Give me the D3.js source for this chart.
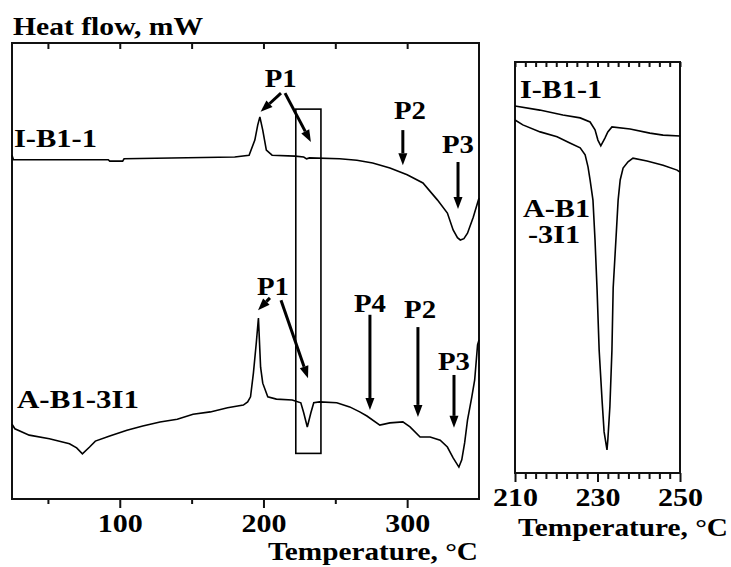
<!DOCTYPE html>
<html>
<head>
<meta charset="utf-8">
<script src="https://cdn.jsdelivr.net/npm/d3@7"></script>
<style>
  body { margin: 0; background: #fff; }
  text { font-family: "Liberation Serif", "DejaVu Serif Condensed", "DejaVu Serif", serif; font-weight: bold; font-size: 26px; fill: #000; }
</style>
</head>
<body>
<svg id="chart" width="731" height="567"></svg>
<script>
// DSC curves, heat flow in arbitrary units (0-100 per panel)
// I-B1-1, full range
const tempTop = [25, 26, 92, 93, 102, 103, 180, 190, 194, 196, 197.5, 199.5, 202, 206, 222, 228, 230, 232, 253, 265, 276, 288, 300, 311, 321, 328, 332, 335, 337, 339.5, 342, 346, 350];
const flowTop = [75.4, 74.4, 74.4, 74.1, 74.1, 74.6, 75.0, 75.4, 78.7, 82.0, 83.8, 80.9, 76.5, 75.4, 75.2, 75.0, 74.6, 74.8, 74.6, 74.3, 73.7, 72.6, 71.1, 69.3, 65.6, 62.7, 59.0, 57.3, 56.8, 57.1, 58.3, 61.8, 66.0];

// A-B1-3I1, full range
const tempBot = [25, 27, 37, 51, 65, 70, 74, 79, 83, 93, 105, 116, 128, 140, 151, 163, 175, 186, 189, 191, 193, 195, 196.5, 198, 199.5, 203, 209, 220, 226, 228, 230.5, 233, 235, 239, 251, 260, 267, 272, 281, 288, 297, 302, 309, 316, 323, 328, 332, 336, 338, 340, 342, 345, 347, 349, 350];
const flowBot = [16.4, 15.4, 14.0, 13.2, 12.1, 11.2, 9.9, 11.4, 12.7, 13.8, 15.1, 16.0, 16.9, 17.5, 18.6, 19.1, 20.0, 20.6, 21.3, 22.4, 27.6, 34.2, 39.7, 28.9, 25.4, 22.4, 21.9, 21.7, 21.1, 18.9, 15.8, 18.9, 21.1, 21.3, 21.1, 20.2, 19.1, 18.2, 16.2, 16.7, 16.9, 15.8, 13.6, 13.6, 12.9, 11.4, 9.0, 7.0, 8.6, 12.3, 17.3, 22.4, 26.1, 33.8, 34.9];

// zoomed 210-250 C
const zTempTop = [210, 216, 221.6, 225.8, 228.2, 229.4, 230.1, 230.8, 231.8, 232.5, 233.5, 237.9, 242.7, 245.9, 250];
const zFlowTop = [89.3, 88.3, 87.1, 86.4, 85.4, 83.5, 81.0, 79.6, 81.5, 83.0, 84.2, 83.7, 82.7, 82.2, 82.0];
const zTempBot = [210, 211.9, 216.1, 220.2, 223.3, 225.8, 227, 227.7, 228.2, 228.9, 229.4, 229.9, 230.4, 231.1, 231.6, 232.3, 232.5, 233, 233.5, 233.8, 234.5, 235, 235.5, 236.2, 237.4, 238.6, 242, 245.9, 249.3, 250];
const zFlowBot = [85.9, 84.7, 83.0, 81.8, 80.3, 79.1, 77.4, 74.5, 71.3, 66.4, 56.7, 44.5, 29.9, 17.8, 10.0, 5.6, 8.0, 16.1, 29.9, 45.0, 57.4, 66.4, 71.3, 74.2, 75.7, 76.6, 75.9, 74.9, 73.7, 73.2];

// axis ticks
const mainMajor = [100, 200, 300];
const mainMinor = [50, 150, 250];
const zoomMajor = [210, 230, 250];
const zoomMinor = [212.5, 215, 217.5, 220, 222.5, 225, 227.5, 232.5, 235, 237.5, 240, 242.5, 245, 247.5];

// peak annotations: label, temp, flow
const peakNames = ["P1", "P2", "P3", "P1", "P4", "P2", "P3"];
const peakTemp = [212, 302, 335.4, 206.6, 274.1, 309, 332.6];
const peakFlow = [90.4, 83.3, 75.9, 44.7, 41.0, 39.7, 28.3];
// arrows: [t1, f1, t2, f2]
const arrows = [
  [212.2, 89.0, 198.0, 84.9], [215, 89.0, 233, 78.3], [297, 80.9, 297, 73.2], [335.4, 73.9, 335.4, 63.6],
  [204.5, 44.1, 196.2, 41.4], [212.2, 43.6, 231, 26.5], [274.1, 40.4, 274.1, 19.5], [307.5, 37.7, 307.5, 18.0], [332.6, 27.2, 332.6, 15.6]
];
// magnified window
const boxTemp = [222.5, 240];
const boxFlow = [10, 85.5];

const svg = d3.select("#chart");

const x = d3.scaleLinear().domain([25, 350]).range([12, 479]);
const y = d3.scaleLinear().domain([0, 100]).range([499, 43]);
const xz = d3.scaleLinear().domain([210, 250]).range([515, 680]);
const yz = d3.scaleLinear().domain([0, 100]).range([473, 62]);

function drawAxes(xs, ys, major, minor, bigTick, smallTick, topTick) {
  const y0 = ys.range()[0], y1 = ys.range()[1];
  svg.append("g").attr("transform", `translate(0,${y0})`)
    .call(d3.axisBottom(xs).tickValues(major).tickSize(bigTick).tickPadding(6).tickFormat(d3.format("d")))
    .selectAll("text").attr("textLength", 45).attr("lengthAdjust", "spacingAndGlyphs");
  svg.append("g").attr("transform", `translate(0,${y0})`)
    .call(d3.axisBottom(xs).tickValues(minor).tickSize(smallTick).tickFormat(""));
  svg.append("g").attr("transform", `translate(0,${y1})`)
    .call(d3.axisTop(xs).tickValues(major.concat(minor)).tickSize(-topTick).tickFormat(""));
  svg.selectAll(".domain").remove();
  svg.selectAll(".tick line").attr("stroke", "#111").attr("stroke-width", 2);
  svg.append("rect")
    .attr("x", xs.range()[0]).attr("y", y1)
    .attr("width", xs.range()[1] - xs.range()[0]).attr("height", y0 - y1)
    .attr("fill", "none").attr("stroke", "#111").attr("stroke-width", 2);
}

drawAxes(x, y, mainMajor, mainMinor, 9, 5, 6);
drawAxes(xz, yz, zoomMajor, zoomMinor, 9, 6, 5);

function curve(xs, ys, ts, fs) {
  const line = d3.line().x(d => xs(d[0])).y(d => ys(d[1]));
  svg.append("path")
    .datum(d3.zip(ts, fs))
    .attr("d", line)
    .attr("fill", "none").attr("stroke", "#000").attr("stroke-width", 1.6);
}
curve(x, y, tempTop, flowTop);
curve(x, y, tempBot, flowBot);
curve(xz, yz, zTempTop, zFlowTop);
curve(xz, yz, zTempBot, zFlowBot);

// rectangle marking the magnified window
svg.append("rect")
  .attr("x", x(boxTemp[0])).attr("y", y(boxFlow[1]))
  .attr("width", x(boxTemp[1]) - x(boxTemp[0]))
  .attr("height", y(boxFlow[0]) - y(boxFlow[1]))
  .attr("fill", "none").attr("stroke", "#000").attr("stroke-width", 1.6);

// arrows
arrows.forEach(a => {
  const x1 = x(a[0]), y1 = y(a[1]), x2 = x(a[2]), y2 = y(a[3]);
  const ang = Math.atan2(y2 - y1, x2 - x1);
  const len = 12, w = 4.5;
  const bx = x2 - len * Math.cos(ang), by = y2 - len * Math.sin(ang);
  svg.append("line")
    .attr("x1", x1).attr("y1", y1).attr("x2", bx).attr("y2", by)
    .attr("stroke", "#000").attr("stroke-width", 3);
  svg.append("path")
    .attr("d", `M${x2},${y2}L${bx - w * Math.sin(ang)},${by + w * Math.cos(ang)}L${bx + w * Math.sin(ang)},${by - w * Math.cos(ang)}Z`)
    .attr("fill", "#000");
});

svg.selectAll(".peak")
  .data(peakNames)
  .enter()
  .append("text")
  .attr("class", "peak")
  .attr("x", (d, i) => x(peakTemp[i]))
  .attr("y", (d, i) => y(peakFlow[i]))
  .attr("text-anchor", "middle")
  .attr("textLength", 32).attr("lengthAdjust", "spacingAndGlyphs")
  .text(d => d);

function label(px, py, str, w, anchor) {
  svg.append("text").attr("x", px).attr("y", py)
    .attr("text-anchor", anchor || "start")
    .attr("textLength", w).attr("lengthAdjust", "spacingAndGlyphs")
    .text(str);
}

// sample names
label(14, 147, "I-B1-1", 83);
label(17, 408, "A-B1-3I1", 122);
label(520, 98, "I-B1-1", 82);
label(523, 217, "A-B1", 67);
label(528, 243, "-3I1", 52);

// axis titles
label(13, 35, "Heat flow, mW", 190);
label(478, 560, "Temperature, °C", 210, "end");
label(728, 536, "Temperature, °C", 210, "end");
</script>
</body>
</html>
